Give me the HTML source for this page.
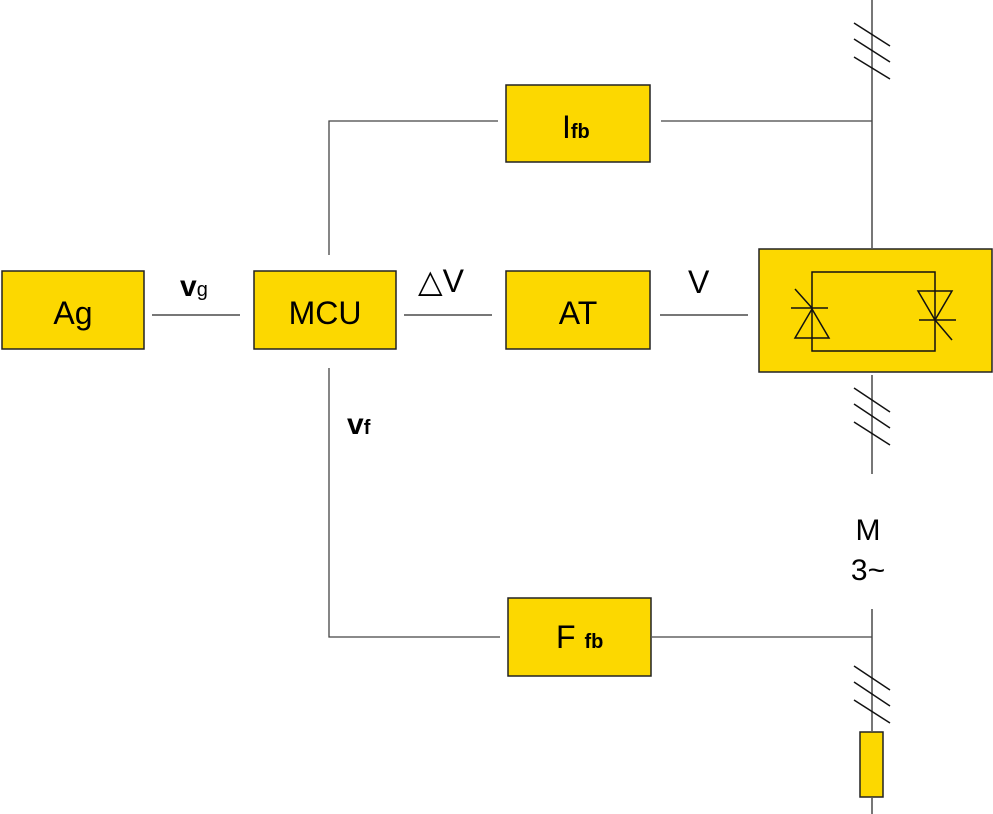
<!DOCTYPE html>
<html><head><meta charset="utf-8"><style>
html,body{margin:0;padding:0;background:#fff;}
svg{display:block;}
text{font-family:"Liberation Sans",sans-serif;fill:#000;}
</style></head><body>
<svg width="993" height="814" viewBox="0 0 993 814" xmlns="http://www.w3.org/2000/svg">
<g fill="#FCD800" stroke="#222" stroke-width="1.5">
<rect x="2" y="271" width="142" height="78"/>
<rect x="254" y="271" width="142" height="78"/>
<rect x="506" y="271" width="144" height="78"/>
<rect x="506" y="85" width="144" height="77"/>
<rect x="508" y="598" width="143" height="78"/>
<rect x="759" y="249" width="233" height="123"/>
<rect x="860" y="732" width="23" height="65"/>
</g>
<g stroke="#777" stroke-width="2" fill="none">
<line x1="872" y1="0" x2="872" y2="248"/>
<line x1="872" y1="375" x2="872" y2="474"/>
<line x1="872" y1="609" x2="872" y2="731"/>
<line x1="872" y1="798" x2="872" y2="814"/>
<line x1="152" y1="315" x2="240" y2="315"/>
<line x1="404" y1="315" x2="492" y2="315"/>
<line x1="660" y1="315" x2="748" y2="315"/>
</g>
<g stroke="#444" stroke-width="1.3" fill="none">
<polyline points="329,255 329,121 498,121"/>
<line x1="661" y1="121" x2="872" y2="121"/>
<polyline points="329,368 329,637 500,637"/>
<line x1="652" y1="637" x2="872" y2="637"/>
</g>
<g stroke="#111" stroke-width="1.5" fill="none">
<line x1="854" y1="23" x2="890" y2="46"/><line x1="854" y1="39" x2="890" y2="62"/><line x1="854" y1="57" x2="890" y2="79"/>
<line x1="854" y1="388" x2="890" y2="412"/><line x1="854" y1="404" x2="890" y2="428"/><line x1="854" y1="422" x2="890" y2="445"/>
<line x1="854" y1="666" x2="890" y2="690"/><line x1="854" y1="682" x2="890" y2="706"/><line x1="854" y1="700" x2="890" y2="723"/>
<rect x="812" y="272" width="123" height="79"/>
<polygon points="812,309 795,338 829,338"/>
<line x1="791" y1="308" x2="828" y2="308"/>
<line x1="795" y1="289" x2="812" y2="308"/>
<polygon points="918,291 952,291 935,320"/>
<line x1="919" y1="320" x2="956" y2="320"/>
<line x1="935" y1="320" x2="952" y2="340"/>
</g>
<g font-size="32">
<text x="73" y="324" text-anchor="middle">Ag</text>
<text x="325" y="324" text-anchor="middle">MCU</text>
<text x="578" y="324" text-anchor="middle">AT</text>
<text x="562" y="138">I<tspan font-size="20" font-weight="bold">fb</tspan></text>
<text x="556" y="648">F <tspan font-size="20" font-weight="bold">fb</tspan></text>
<text x="180" y="296" font-weight="bold" font-size="30">v<tspan font-size="20" font-weight="normal">g</tspan></text>
<text x="418" y="292" font-size="32">△V</text>
<text x="688" y="293" font-size="32">V</text>
<text x="347" y="434" font-weight="bold" font-size="30">v<tspan font-size="20">f</tspan></text>
<text x="868" y="540" text-anchor="middle" font-size="30">M</text>
<text x="868" y="580" text-anchor="middle" font-size="30">3~</text>
</g>
</svg>
</body></html>
